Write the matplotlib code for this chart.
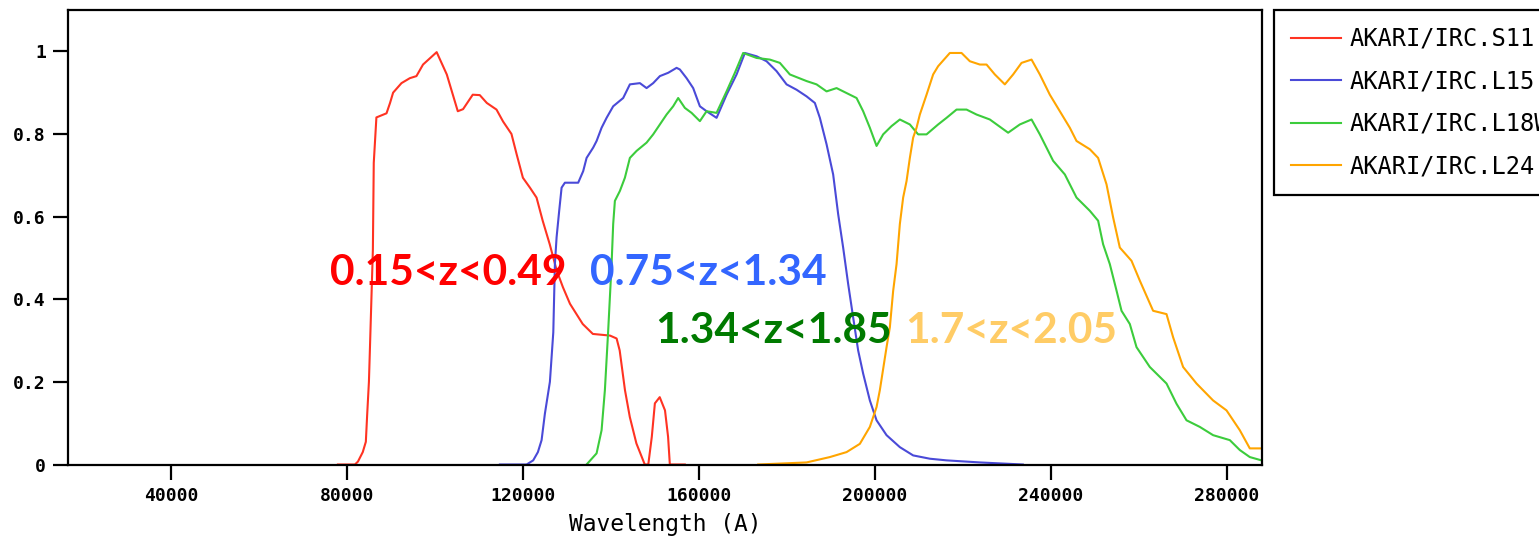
import numpy as np
import matplotlib
matplotlib.use("Agg")
import matplotlib.pyplot as plt

# filter transmission curves, wavelength in Angstrom
s11_wl = [77955, 81818, 82500, 83600, 84300, 84600, 85000, 85200, 85900, 86100, 86700,
          89000, 89800, 90500, 92400, 94300, 95800, 97300, 100400, 102700, 105200,
          106400, 108600, 110200, 111800, 114000, 115500, 117400, 118600, 120000,
          121600, 123100, 124500, 126100, 127700, 129100, 130700, 133600, 135900,
          139800, 141300, 142000, 143200, 144300, 145800, 147700, 148500, 149300,
          150000, 151100, 152300, 153000, 153400, 156800]
s11_tr = [0, 0, 0.007, 0.03, 0.055, 0.12, 0.2, 0.27, 0.52, 0.73, 0.84,
          0.85, 0.875, 0.90, 0.923, 0.935, 0.94, 0.968, 0.998, 0.944, 0.855,
          0.86, 0.895, 0.894, 0.875, 0.859, 0.83, 0.80, 0.75, 0.694,
          0.67, 0.646, 0.59, 0.533, 0.469, 0.429, 0.389, 0.34, 0.316,
          0.312, 0.305, 0.276, 0.18, 0.115, 0.051, 0, 0, 0.067,
          0.148, 0.163, 0.131, 0.067, 0, 0]

l15_wl = [114773, 120841, 122341, 123409, 124250, 125000, 126136, 126909, 127273,
          127659, 128250, 128795, 129545, 132568, 133705, 134477, 135977, 136750,
          137886, 139023, 140523, 142795, 144318, 146591, 148114, 149614, 151136,
          153023, 154932, 155682, 157205, 158705, 160227, 161750, 164023, 166295,
          168568, 170455, 173114, 175386, 177659, 179932, 182205, 184477, 186364,
          187500, 189023, 190523, 191659, 192795, 193932, 195068, 196205, 197341,
          198864, 200386, 202659, 205682, 208705, 212500, 216295, 223864, 233636]
l15_tr = [0, 0, 0.01, 0.03, 0.059, 0.123, 0.2, 0.32, 0.485,
          0.55, 0.614, 0.67, 0.682, 0.682, 0.71, 0.742, 0.767, 0.783,
          0.815, 0.839, 0.867, 0.887, 0.92, 0.923, 0.911, 0.923, 0.94,
          0.948, 0.96, 0.956, 0.935, 0.911, 0.867, 0.855, 0.839, 0.895,
          0.944, 0.996, 0.988, 0.976, 0.952, 0.92, 0.907, 0.891, 0.875,
          0.839, 0.775, 0.702, 0.606, 0.525, 0.437, 0.356, 0.276, 0.22,
          0.155, 0.107, 0.071, 0.042, 0.022, 0.014, 0.01, 0.005, 0]

l18w_wl = [134477, 136750, 137886, 138636, 139386, 140159, 140523, 140909, 142045,
           143182, 144318, 145841, 148114, 149614, 151136, 152659, 154159, 155295,
           156818, 158341, 160227, 161750, 164023, 166295, 168182, 170068, 173114,
           176136, 178409, 180682, 184477, 186750, 189023, 191295, 193568, 195841,
           197341, 198864, 200386, 201886, 203795, 205682, 207955, 209841, 211750,
           214386, 216295, 218568, 220841, 223114, 226136, 230295, 232955, 235614,
           237500, 240523, 243182, 245841, 248864, 250750, 251886, 253409, 254932,
           256068, 257955, 259477, 262500, 266295, 268568, 270841, 273864, 276886,
           280682, 282955, 285227, 287886]
l18w_tr = [0, 0.027, 0.083, 0.18, 0.324, 0.485, 0.582, 0.638, 0.662,
           0.694, 0.742, 0.759, 0.779, 0.799, 0.823, 0.847, 0.867, 0.887,
           0.863, 0.851, 0.831, 0.855, 0.851, 0.903, 0.948, 0.996, 0.984,
           0.98, 0.972, 0.944, 0.928, 0.92, 0.903, 0.911, 0.899, 0.887,
           0.855, 0.815, 0.771, 0.799, 0.819, 0.835, 0.823, 0.799, 0.799,
           0.823, 0.839, 0.859, 0.859, 0.847, 0.835, 0.803, 0.823, 0.835,
           0.799, 0.735, 0.702, 0.646, 0.614, 0.59, 0.533, 0.485, 0.421,
           0.372, 0.34, 0.284, 0.236, 0.196, 0.147, 0.107, 0.091, 0.071,
           0.059, 0.035, 0.018, 0.01]

l24_wl = [173477, 184477, 189773, 193568, 196591, 198864, 200386, 201136, 202659,
          203409, 204159, 204932, 205682, 206432, 207205, 207955, 208705, 209477,
          210227, 211750, 213250, 214386, 217045, 219705, 221591, 223864, 225386,
          227273, 229545, 231432, 233341, 235614, 237500, 239773, 242045, 244318,
          245841, 248864, 250750, 252659, 254159, 255682, 258341, 260227, 263250,
          266295, 267795, 270068, 273114, 276886, 279932, 282955, 285227, 287886]
l24_tr = [0, 0.005, 0.018, 0.03, 0.05, 0.091, 0.139, 0.18, 0.284,
          0.332, 0.42, 0.485, 0.582, 0.646, 0.686, 0.742, 0.791, 0.815,
          0.847, 0.895, 0.944, 0.964, 0.996, 0.996, 0.976, 0.968, 0.968,
          0.944, 0.92, 0.944, 0.972, 0.98, 0.944, 0.895, 0.855, 0.815,
          0.783, 0.763, 0.742, 0.678, 0.598, 0.525, 0.493, 0.445, 0.372,
          0.364, 0.308, 0.236, 0.196, 0.155, 0.131, 0.083, 0.039, 0.039]

filters = ["AKARI/IRC.S11", "AKARI/IRC.L15", "AKARI/IRC.L18W", "AKARI/IRC.L24"]
line_colors = ["#ff3322", "#4a4ad8", "#3ccc3c", "#ffa500"]

z_labels = ["0.15<z<0.49", "0.75<z<1.34", "1.34<z<1.85", "1.7<z<2.05"]
z_pos = [(76100, 0.464), (135200, 0.464), (150000, 0.322), (206800, 0.322)]
z_colors = ["#ff0000", "#3366ff", "#007a00", "#ffcc66"]

fig = plt.figure(figsize=(15.39, 5.39), dpi=100)
ax = fig.add_axes([68/1539, 1 - 464.5/539, (1262 - 68)/1539, (464.5 - 10)/539])

curves = [(s11_wl, s11_tr), (l15_wl, l15_tr), (l18w_wl, l18w_tr), (l24_wl, l24_tr)]
for (wl, tr), name, c in zip(curves, filters, line_colors):
    ax.plot(wl, tr, color=c, lw=1.5, label=name)

ax.set_xlim(16600, 288000)
ax.set_ylim(0, 1.1)
ax.set_xticks([40000, 80000, 120000, 160000, 200000, 240000, 280000])
ax.set_yticks([0, 0.2, 0.4, 0.6, 0.8, 1])
ax.set_yticklabels(["0", "0.2", "0.4", "0.6", "0.8", "1"])
for sp in ax.spines.values():
    sp.set_linewidth(1.6)
ax.tick_params(length=11, width=1.6, pad=5, direction="out")
for lab in ax.get_xticklabels() + ax.get_yticklabels():
    lab.set_fontfamily("DejaVu Sans Mono")
    lab.set_fontweight("bold")
    lab.set_fontsize(13)
ax.set_xlabel("Wavelength (A)", family="DejaVu Sans Mono", fontsize=16.5, labelpad=6)

for txt, (x, y), c in zip(z_labels, z_pos, z_colors):
    ax.text(x, y, txt, color=c, fontsize=30.5, fontweight="bold", family="Lato",
            ha="left", va="center")

# legend box sits right of the axes and runs off the figure edge
leg = fig.legend(loc="upper left", bbox_to_anchor=(1274/1539, 1 - 10/539),
                 prop={"family": "DejaVu Sans Mono", "size": 17},
                 fancybox=False, edgecolor="black", framealpha=1,
                 handlelength=2.1, handletextpad=0.4, labelspacing=0.78,
                 borderpad=0.72, borderaxespad=0)
leg.get_frame().set_linewidth(1.6)

fig.savefig("out.png", dpi=100)
